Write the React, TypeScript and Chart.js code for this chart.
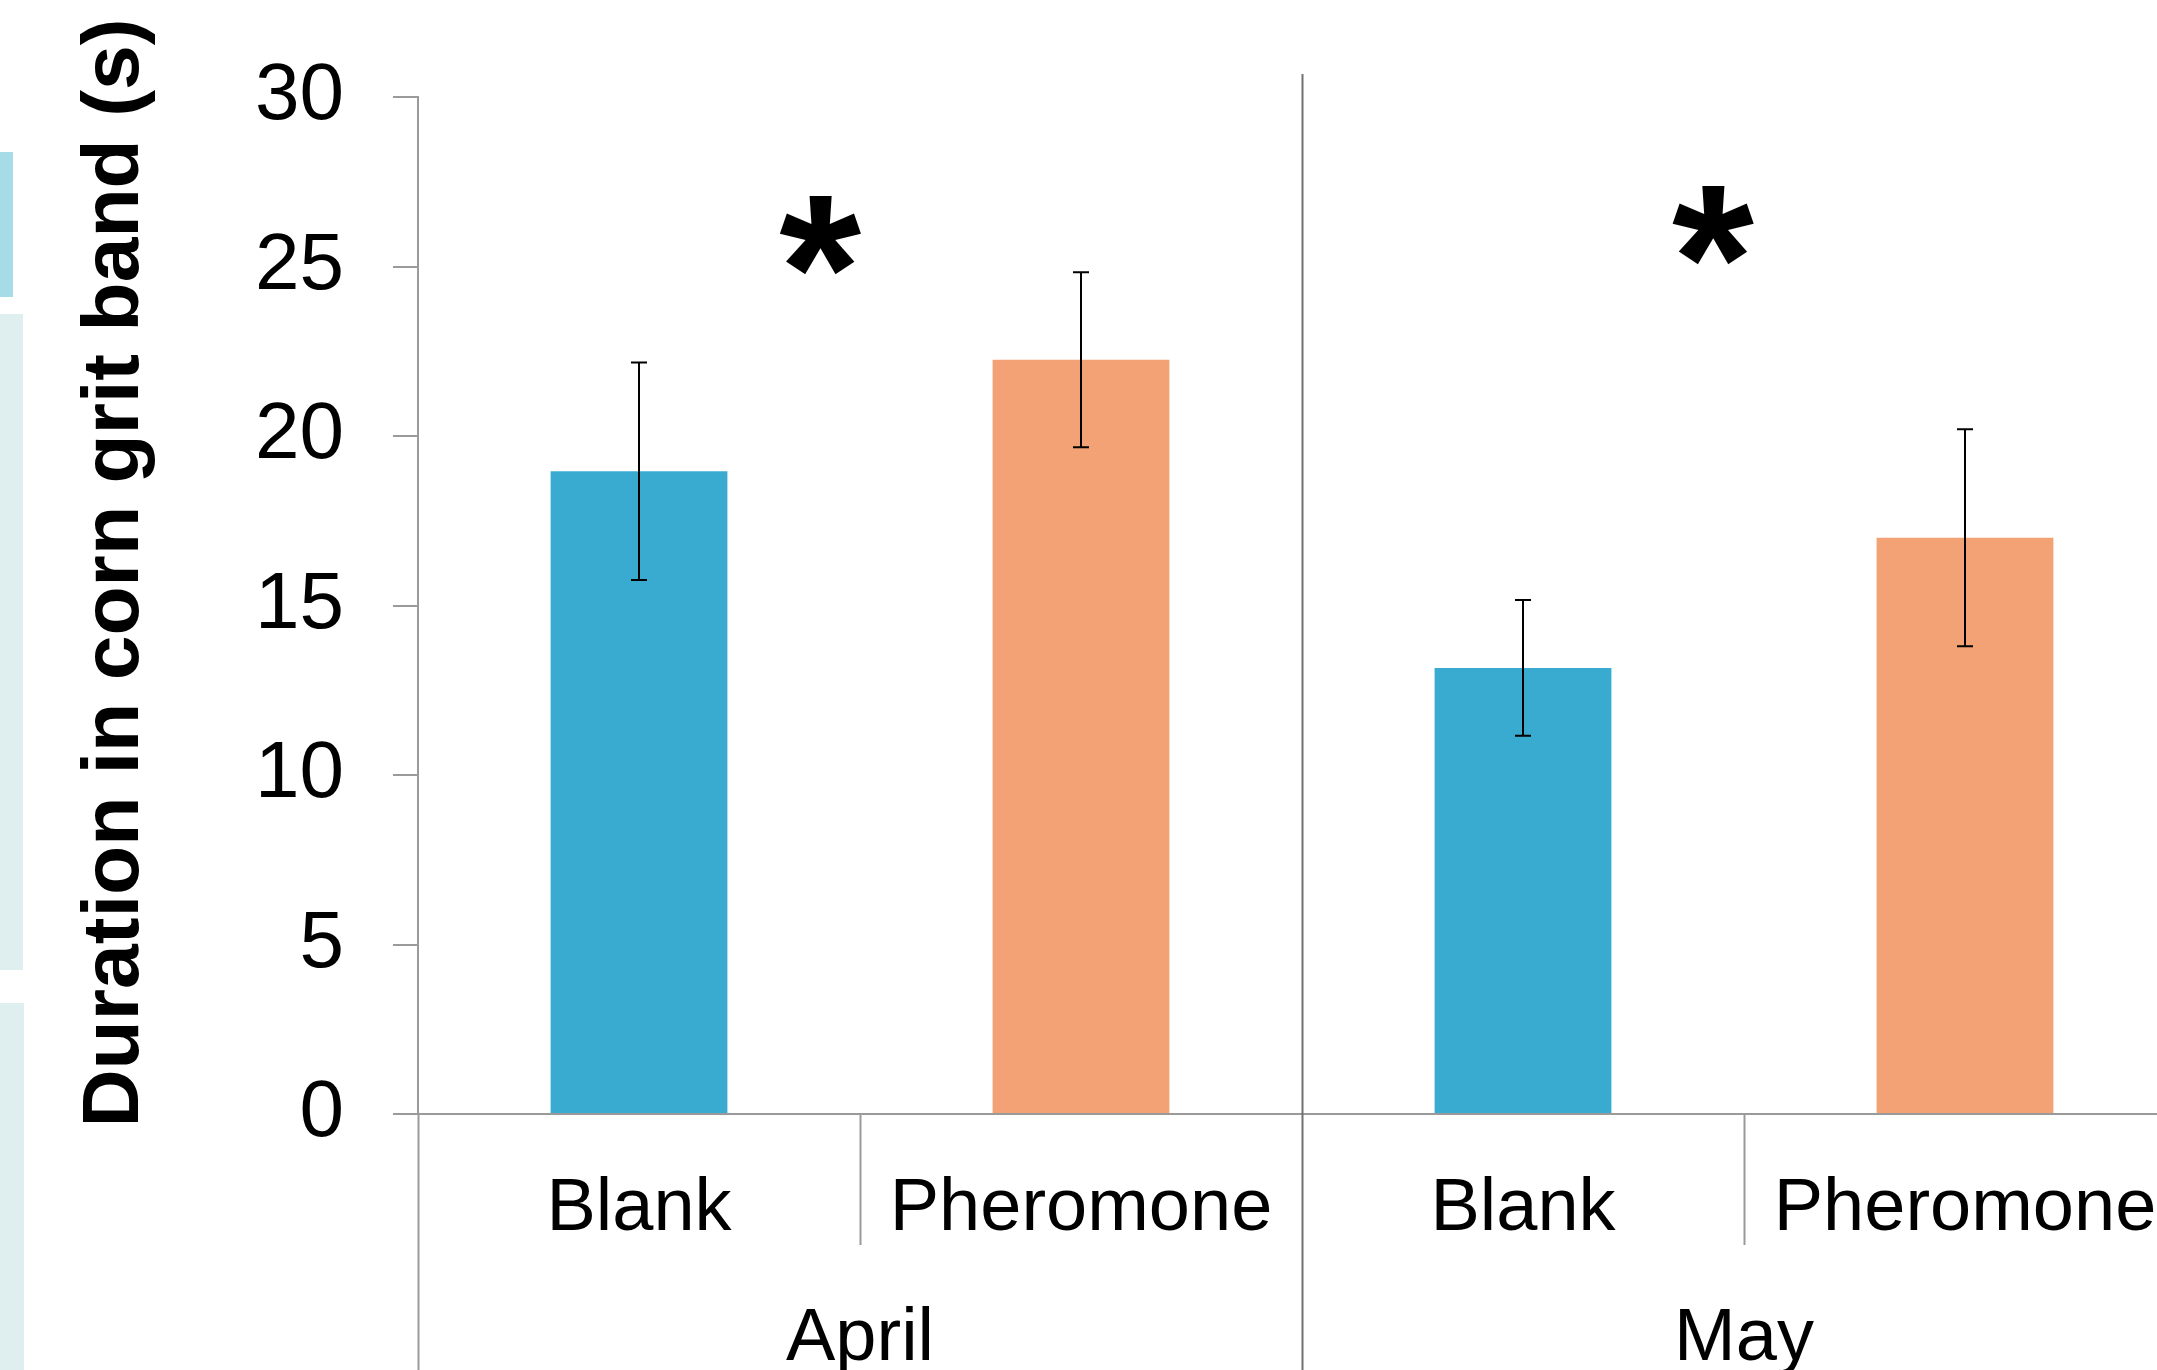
import React, { useEffect, useRef } from "react";
import { Chart, registerables } from "chart.js";

Chart.register(...registerables);

const categories = ["Blank", "Pheromone", "Blank", "Pheromone"];
const groups = ["April", "May"];
const means = [18.96, 22.25, 13.16, 17.0];
const errors = [3.21, 2.58, 2.0, 3.2];
const barColors = ["#3AABD0", "#F2A275", "#3AABD0", "#F2A275"];
const yTicks = [0, 5, 10, 15, 20, 25, 30];
const sigX = [0.41, 2.43];
const sigY = [25.9, 26.2];
const yTitle = "Duration in corn grit band (s)";

const FONT = "'Liberation Sans', Arial, Helvetica, sans-serif";

const overlay = {
  id: "overlay",
  afterDraw(chart: any) {
    const ctx = chart.ctx as CanvasRenderingContext2D;
    const xs = chart.scales.x;
    const ys = chart.scales.y;
    const area = chart.chartArea;
    const H = chart.height;
    ctx.save();

    // error bars
    ctx.strokeStyle = "#000";
    ctx.lineWidth = 2;
    for (let i = 0; i < means.length; i++) {
      const x = xs.getPixelForValue(i);
      const yt = ys.getPixelForValue(means[i] + errors[i]);
      const yb = ys.getPixelForValue(means[i] - errors[i]);
      ctx.beginPath();
      ctx.moveTo(x, yt);
      ctx.lineTo(x, yb);
      ctx.moveTo(x - 8, yt);
      ctx.lineTo(x + 8, yt);
      ctx.moveTo(x - 8, yb);
      ctx.lineTo(x + 8, yb);
      ctx.stroke();
    }

    // separators
    const x0 = xs.getPixelForValue(0);
    const cw = xs.getPixelForValue(1) - x0;
    for (let k = 0; k <= categories.length; k++) {
      const bx = Math.round(x0 + (k - 0.5) * cw) + 0.5;
      ctx.beginPath();
      if (k % 2 === 1) {
        ctx.strokeStyle = "#9a9a9a";
        ctx.lineWidth = 2;
        ctx.moveTo(bx, area.bottom);
        ctx.lineTo(bx, area.bottom + 131);
      } else if (k === 0) {
        ctx.strokeStyle = "#9a9a9a";
        ctx.lineWidth = 2;
        ctx.moveTo(bx, area.bottom);
        ctx.lineTo(bx, H);
      } else {
        ctx.strokeStyle = "#707070";
        ctx.lineWidth = 2;
        ctx.moveTo(bx, area.top - 23);
        ctx.lineTo(bx, H);
      }
      ctx.stroke();
    }

    // category labels
    ctx.fillStyle = "#000";
    ctx.textAlign = "center";
    ctx.textBaseline = "alphabetic";
    ctx.font = `74px ${FONT}`;
    for (let i = 0; i < categories.length; i++) {
      ctx.fillText(categories[i], xs.getPixelForValue(i), area.bottom + 116);
    }
    for (let g = 0; g < groups.length; g++) {
      const gx = (xs.getPixelForValue(2 * g) + xs.getPixelForValue(2 * g + 1)) / 2;
      ctx.fillText(groups[g], gx, area.bottom + 246);
    }

    // y title
    ctx.save();
    ctx.font = `bold 80.5px ${FONT}`;
    ctx.translate(138, 573);
    ctx.rotate(-Math.PI / 2);
    ctx.textAlign = "center";
    ctx.fillText(yTitle, 0, 0);
    ctx.restore();

    // significance asterisks
    ctx.font = `bold 100px ${FONT}`;
    let m = ctx.measureText("*");
    const h100 = m.actualBoundingBoxAscent + m.actualBoundingBoxDescent;
    const size = (100 * 80) / h100;
    ctx.font = `bold ${size}px ${FONT}`;
    m = ctx.measureText("*");
    for (let j = 0; j < sigX.length; j++) {
      const cx = xs.getPixelForValue(0) + sigX[j] * cw;
      const cy = ys.getPixelForValue(sigY[j]);
      const base = cy + (m.actualBoundingBoxAscent - m.actualBoundingBoxDescent) / 2;
      ctx.fillText("*", cx, base);
    }
    ctx.restore();
  },
};

export default function App() {
  const ref = useRef<HTMLCanvasElement | null>(null);
  useEffect(() => {
    if (!ref.current) return;
    const chart = new Chart(ref.current, {
      type: "bar",
      data: {
        labels: categories,
        datasets: [
          {
            data: means,
            backgroundColor: barColors,
            borderWidth: 0,
            categoryPercentage: 1,
            barPercentage: 0.4,
          },
        ],
      },
      options: {
        animation: false,
        responsive: false,
        devicePixelRatio: 1,
        layout: { padding: { top: 95, right: 14, left: 0, bottom: 0 } },
        plugins: { legend: { display: false }, tooltip: { enabled: false } },
        scales: {
          x: {
            ticks: { display: false },
            grid: { display: true, drawOnChartArea: false, drawTicks: false, color: "#9a9a9a" },
            border: { display: true, color: "#9a9a9a", width: 2 },
            afterFit: (s: any) => {
              s.height = 256;
            },
          },
          y: {
            min: 0,
            max: 30,
            afterBuildTicks: (s: any) => {
              s.ticks = yTicks.map((v) => ({ value: v }));
            },
            ticks: {
              font: { family: FONT, size: 80 },
              color: "#000",
              padding: 49,
            },
            grid: {
              display: true,
              drawOnChartArea: false,
              drawTicks: true,
              tickLength: 25,
              color: "#9a9a9a",
              lineWidth: 2,
            },
            border: { display: true, color: "#9a9a9a", width: 2 },
            afterFit: (s: any) => {
              s.width = 418;
            },
          },
        },
      },
      plugins: [overlay],
    });
    return () => chart.destroy();
  }, []);

  return (
    <div
      style={{
        position: "fixed",
        left: 0,
        top: 0,
        width: 2157,
        height: 1370,
        overflow: "hidden",
        background: "#fff",
      }}
    >
      <canvas ref={ref} width={2200} height={1370} style={{ position: "absolute", left: 0, top: 0, width: 2200, height: 1370 }} />
      <div style={{ position: "absolute", left: 0, top: 152, width: 13, height: 145, background: "#a6dce8" }} />
      <div style={{ position: "absolute", left: 0, top: 314, width: 23, height: 656, background: "#dfeeee" }} />
      <div style={{ position: "absolute", left: 0, top: 1003, width: 24, height: 367, background: "#dfeeee" }} />
    </div>
  );
}
